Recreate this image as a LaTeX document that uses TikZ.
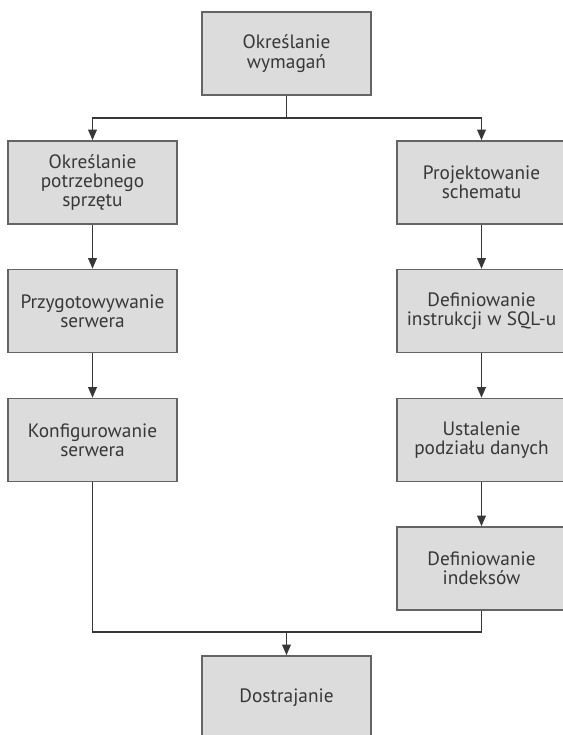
\documentclass[tikz,border=0pt]{standalone}
\usepackage{fontspec}
\setmainfont{PT Sans}
\usepackage{tikz}
\usetikzlibrary{arrows.meta}

\definecolor{boxfill}{RGB}{220,220,221}
\definecolor{boxline}{RGB}{100,100,100}
\definecolor{inkgray}{RGB}{55,55,55}

\begin{document}
\begin{tikzpicture}[x=0.02cm, y=-0.02cm,
        stage/.style={draw=boxline, fill=boxfill, line width=0.9pt, text=inkgray,
                      minimum width=3.38cm, minimum height=1.66cm, inner sep=0pt,
                      align=center, font=\fontsize{11}{11}\selectfont},
        flow/.style={draw=inkgray, line width=1pt, -{Triangle[length=2.1mm,width=1.7mm]}}]
        \useasboundingbox (0,0) rectangle (563,735);

        % top and bottom
        \node[stage] (req)  at (286.5,53.5)  {Określanie\\wymagań};
        \node[stage] (tune) at (286.5,697.5) {Dostrajanie};

        % left column
        \node[stage] (hw)   at (92.5,182.5) {Określanie\\potrzebnego\\sprzętu};
        \node[stage] (prep) at (92.5,311)   {Przygotowywanie\\serwera};
        \node[stage] (conf) at (92.5,440)   {Konfigurowanie\\serwera};

        % right column
        \node[stage] (schema) at (481.5,182.5) {Projektowanie\\schematu};
        \node[stage] (sql)    at (481.5,311)   {Definiowanie\\instrukcji w SQL-u};
        \node[stage] (shard)  at (481.5,440)   {Ustalenie\\podziału danych};
        \node[stage] (index)  at (481.5,568.5) {Definiowanie\\indeksów};

        \coordinate (split) at (286.5,118);
        \coordinate (merge) at (286.5,632);

        \draw[flow] (req) -- (split) -| (hw);
        \draw[flow] (split) -| (schema);

        \draw[flow] (hw) -- (prep);
        \draw[flow] (prep) -- (conf);

        \draw[flow] (schema) -- (sql);
        \draw[flow] (sql) -- (shard);
        \draw[flow] (shard) -- (index);

        \draw[flow, -] (conf) |- (merge) -| (index);
        \draw[flow] (merge) -- (tune);
\end{tikzpicture}
\end{document}
